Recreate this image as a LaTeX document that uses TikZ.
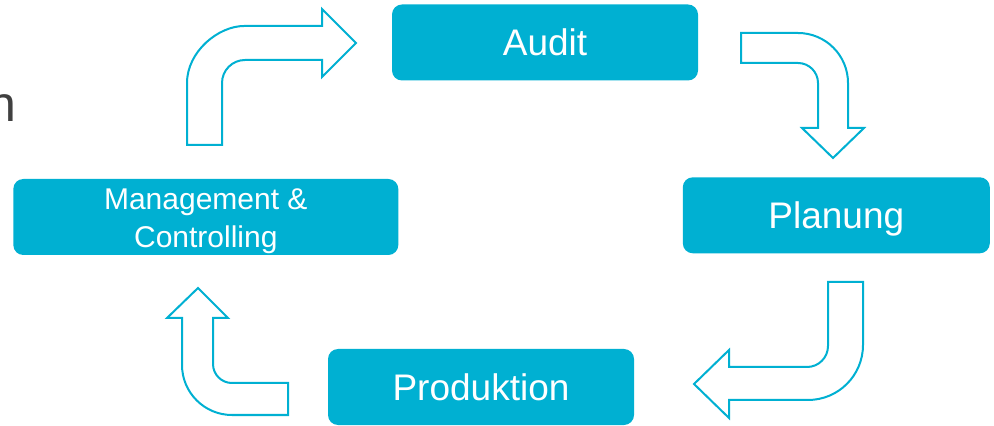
\documentclass[tikz,border=0pt]{standalone}
\usepackage{fontspec}
\setmainfont{Liberation Sans}
\usetikzlibrary{positioning}
\definecolor{cycan}{RGB}{0,176,210}
\definecolor{textgray}{RGB}{64,64,64}
\tikzset{
	box/.style={fill=cycan, rounded corners=5pt, text=white, inner sep=0pt, align=center},
	bigtext/.style={font=\fontsize{18.5}{22}\selectfont, text height=13.25pt, text depth=0pt},
	bigarrow/.style={draw=cycan, line width=1pt, fill=white, line join=miter}
}

\begin{document}
\begin{tikzpicture}[x=0.5pt, y=-0.5pt]
		%%%%% START %%%%%
		\useasboundingbox (0, 0) rectangle (994, 426);
		
		\node[anchor=base east, inner sep=0pt, text=textgray, font=\fontsize{25}{30}\selectfont] (cut) at (17, 122) {n};
		
		\node[box, bigtext, minimum width=153pt, minimum height=38pt] (audit) at (545, 42.5) {Audit};
		\node[box, bigtext, minimum width=153.5pt, minimum height=38pt] (planung) at (836.3, 215.3) {Planung};
		\node[box, bigtext, minimum width=153pt, minimum height=38pt] (produktion) at (481, 387) {Produktion};
		\node[box, minimum width=192.5pt, minimum height=38pt] (management) at (205.8, 217) {};
		\node[text=white, align=center, inner sep=0pt, font=\fontsize{15}{18.85}\selectfont] (managementtext) at ([yshift=-2.25pt]management.center) {Management \&\\Controlling};
		
		% Audit -> Planung
		\draw[bigarrow] (741, 33) -- (798, 33) .. controls (825.6, 33) and (848, 55.4) .. (848, 83) -- (848, 128) -- (864, 128) -- (833, 158) -- (802, 128) -- (818, 128) -- (818, 83) .. controls (818, 72) and (809, 63) .. (798, 63) -- (741, 63) -- cycle;
		
		% Planung -> Produktion
		\draw[bigarrow] (828, 282) -- (863, 282) -- (863, 345) .. controls (863, 375.4) and (838.4, 400) .. (808, 400) -- (729, 400) -- (729, 418) -- (694, 384) -- (729, 350) -- (729, 367) -- (807, 367) .. controls (818.6, 367) and (828, 357.6) .. (828, 346) -- cycle;
		
		% Produktion -> Management
		\draw[bigarrow] (288, 415) -- (232, 415) .. controls (204.4, 415) and (182, 392.6) .. (182, 365) -- (182, 318) -- (167, 318) -- (198, 288) -- (228, 318) -- (213, 318) -- (213, 364) .. controls (213, 374.5) and (221.5, 383) .. (232, 383) -- (288, 383) -- cycle;
		
		% Management -> Audit
		\draw[bigarrow] (187, 145) -- (187, 83) .. controls (187, 51.5) and (218.5, 26) .. (244, 26) -- (322, 26) -- (322, 9) -- (356, 43) -- (322, 77) -- (322, 60) -- (245, 60) .. controls (232.3, 60) and (222, 70.3) .. (222, 83) -- (222, 145) -- cycle;
		
		%%%%% END %%%%%
	\end{tikzpicture}
\end{document}
